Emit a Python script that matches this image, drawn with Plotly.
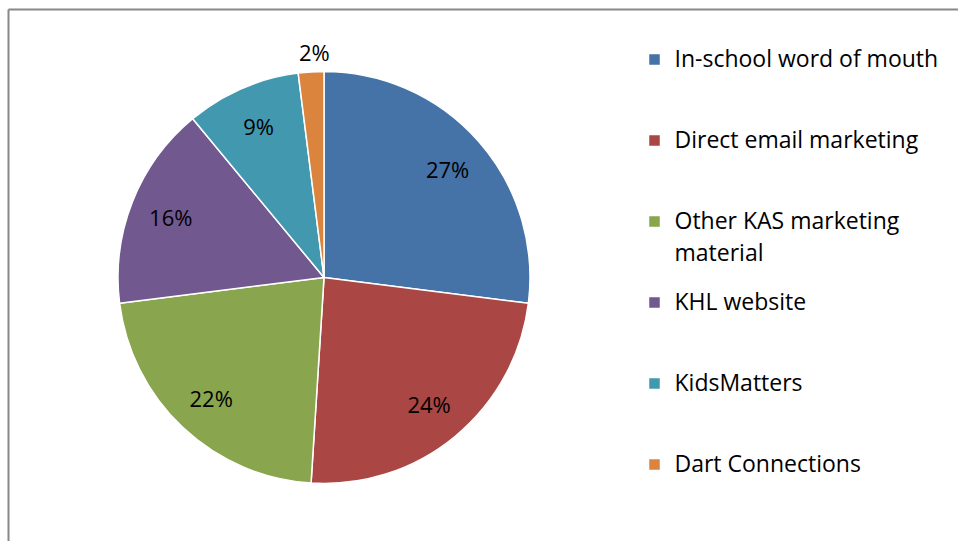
import math
import plotly.graph_objects as go

categories = ["In-school word of mouth", "Direct email marketing", "Other KAS marketing material",
              "KHL website", "KidsMatters", "Dart Connections"]
legend_lines = [["In-school word of mouth"], ["Direct email marketing"],
                ["Other KAS marketing", "material"], ["KHL website"],
                ["KidsMatters"], ["Dart Connections"]]
values = [27, 24, 22, 16, 9, 2]
colors = ["#4572A7", "#AA4643", "#89A54E", "#71588F", "#4198AF", "#DB843D"]
inside_label = [True, True, True, True, True, False]

W, H = 958, 541
cx, cy, r = 324, 277.5, 206
dom_x = [(cx - r) / W, (cx + r) / W]
dom_y = [(H - cy - r) / H, (H - cy + r) / H]

LEG_SIZE = 23
LABEL_SIZE = 22


def legend_text(lines):
    parts = []
    for i, ln in enumerate(lines):
        shift = ";baseline-shift:-6px" if i > 0 else ""
        parts.append('<span style="font-size:%dpx%s">%s</span>' % (LEG_SIZE, shift, ln))
    return "<br>".join(parts) + "<br> " * (3 - len(lines))


legend_labels = [legend_text(l) for l in legend_lines]
total = sum(values)
pct_text = ["%d%%" % round(v * 100 / total) for v in values]

fig = go.Figure()
fig.add_trace(go.Pie(
    labels=legend_labels, values=values, sort=False, direction="clockwise", rotation=0,
    marker=dict(colors=colors, line=dict(color="white", width=1.5)),
    textinfo="none", domain=dict(x=dom_x, y=dom_y), hoverinfo="percent",
))
fig.add_trace(go.Pie(
    labels=legend_labels, values=values, sort=False, direction="clockwise", rotation=0,
    hole=0.6, marker=dict(colors=["rgba(0,0,0,0)"] * 6, line=dict(width=0)),
    text=[t if ins else "" for t, ins in zip(pct_text, inside_label)],
    textinfo="text", textposition="inside", insidetextorientation="horizontal",
    textfont=dict(family="Open Sans", size=LABEL_SIZE, color="black"),
    showlegend=False, domain=dict(x=dom_x, y=dom_y), hoverinfo="skip",
))

# outside label(s) for thin slices, placed just beyond the rim at the slice's mid angle
annotations = []
cum = 0
for v, t, ins in zip(values, pct_text, inside_label):
    mid = (cum + v / 2) / total
    cum += v
    if ins:
        continue
    ang = 2 * math.pi * mid
    rr = r + 20
    px = cx + rr * math.sin(ang) + 5
    py = cy - rr * math.cos(ang)
    annotations.append(dict(x=px / W, y=(H - py) / H, xref="paper", yref="paper", text=t,
                            showarrow=False, xanchor="center", yanchor="middle",
                            font=dict(family="Open Sans", size=LABEL_SIZE, color="black")))

fig.update_layout(
    width=W, height=H, margin=dict(l=0, r=0, t=0, b=0),
    paper_bgcolor="white", plot_bgcolor="white",
    font=dict(family="Open Sans", color="black"),
    legend=dict(x=634.5 / W, y=(H - 40) / H, xanchor="left", yanchor="top", valign="top",
                font=dict(family="Open Sans", size=20, color="black"),
                bgcolor="rgba(0,0,0,0)"),
    annotations=annotations,
    shapes=[
        dict(type="line", xref="paper", yref="paper", x0=8.5 / W, x1=1.01, y0=(H - 9.5) / H, y1=(H - 9.5) / H,
             line=dict(color="#888888", width=2)),
        dict(type="line", xref="paper", yref="paper", x0=8.5 / W, x1=8.5 / W, y0=-0.01, y1=(H - 9.5) / H,
             line=dict(color="#888888", width=2)),
    ],
)

fig.write_html("out.html", config={"displayModeBar": False},
               post_script="document.body.style.margin='0';")
